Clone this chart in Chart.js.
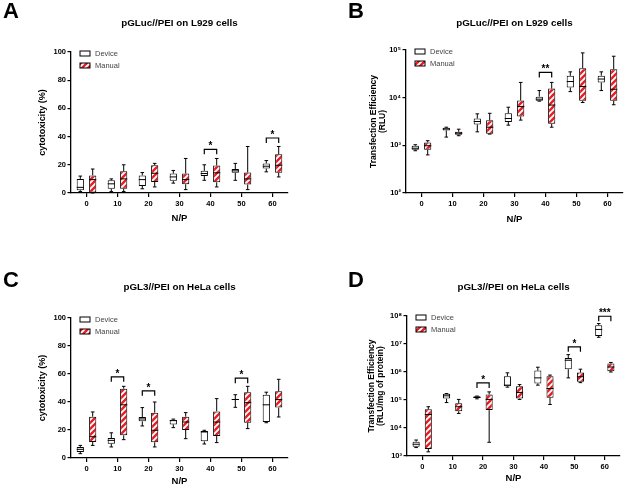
<!DOCTYPE html>
<html lang="en">
<head>
<meta charset="UTF-8">
<title>Device vs Manual transfection</title>
<script src="https://cdn.jsdelivr.net/npm/chart.js"></script>
<style>
  body { margin: 0; background: #fff; }
  #wrap { position: relative; width: 624px; height: 487px; overflow: hidden; }
  canvas { position: absolute; }
  .letter { position: absolute; font: bold 22px "Liberation Sans", Arial, sans-serif; line-height: 1; color: #000; }
</style>
</head>
<body>
<div id="wrap">
  <canvas id="chartA" width="312" height="243" style="left:0;top:0"></canvas>
  <canvas id="chartB" width="312" height="243" style="left:312px;top:0"></canvas>
  <canvas id="chartC" width="312" height="244" style="left:0;top:243px"></canvas>
  <canvas id="chartD" width="312" height="244" style="left:312px;top:243px"></canvas>
  <div class="letter" style="left:3px;top:0">A</div>
  <div class="letter" style="left:348px;top:0">B</div>
  <div class="letter" style="left:3px;top:269px">C</div>
  <div class="letter" style="left:348px;top:269px">D</div>
</div>
<script>
const categories = ['0', '10', '20', '30', '40', '50', '60'];
const seriesNames = ['Device', 'Manual'];

// A: pGLuc//PEI on L929 cells, cytotoxicity (%)
const aDevMin = [1, 1, 3, 7, 9, 9, 15];
const aDevQ1  = [2, 3, 5, 8.6, 12, 14.3, 17.3];
const aDevMed = [4, 6.5, 9.5, 11.4, 13.8, 15.7, 19];
const aDevQ3  = [10, 9, 12.5, 13.8, 15.7, 17, 21];
const aDevMax = [12, 10, 14.5, 16, 20, 21, 23];
const aManMin = [0, 1, 4.3, 2.4, 4.3, 2.4, 11.4];
const aManQ1  = [0.3, 3, 7.8, 6.2, 7.6, 6, 14.3];
const aManMed = [9.5, 10, 14, 9.5, 14.3, 10, 19.7];
const aManQ3  = [12.5, 15.5, 19.7, 13.8, 19.5, 14.5, 27.5];
const aManMax = [17, 20, 21, 24.5, 24.5, 33, 33];
const aSigCats = ['40', '60'];
const aSigTops = [31, 39];
const aSigMarks = ['*', '*'];

// B: pGLuc//PEI on L929 cells, RLU
const bDevMin = [770, 1490, 1920, 2650, 8450, 13400, 14100];
const bDevQ1  = [810, 2050, 2740, 3100, 8600, 16300, 20800];
const bDevMed = [870, 2200, 3160, 3650, 9300, 21800, 24600];
const bDevQ3  = [980, 2330, 3660, 4700, 10500, 28700, 28900];
const bDevMax = [1030, 2400, 4580, 6300, 14100, 34800, 34800];
const bManMin = [630, 1590, 1720, 3380, 2400, 7900, 7100];
const bManQ1  = [810, 1660, 1740, 4040, 2820, 8600, 8600];
const bManMed = [980, 1800, 2400, 6500, 7000, 17100, 15000];
const bManQ3  = [1150, 1920, 3370, 8700, 15500, 41400, 39600];
const bManMax = [1250, 2180, 4700, 20900, 20900, 87000, 74000];
const bSigCats = ['40'];
const bSigTops = [33800];
const bSigMarks = ['**'];
const bTicks = [100, 1000, 10000, 100000];
const bTickLabels = ['10²', '10³', '10⁴', '10⁵'];

// C: pGL3//PEI on HeLa cells, cytotoxicity (%)
const cDevMin = [3.1, 7.9, 22.9, 21.7, 10, 36.2, 25.2];
const cDevQ1  = [4.3, 10.2, 26.2, 24, 11.9, 41.5, 25.7];
const cDevMed = [6.2, 12.6, 27.9, 26.7, 18.6, 41.8, 38];
const cDevQ3  = [7.9, 14.3, 29.3, 27.4, 19.3, 42.1, 45.2];
const cDevMax = [9, 18, 36, 27.8, 19.8, 45.2, 47];
const cManMin = [9, 13.1, 7.9, 13.8, 11, 21, 29.3];
const cManQ1  = [11.4, 16.2, 11.2, 20, 15.7, 25.2, 36];
const cManMed = [15.2, 38, 19.8, 25.7, 25.7, 39.5, 41.7];
const cManQ3  = [29.5, 49.5, 32.4, 29.5, 33.3, 46.9, 47.6];
const cManMax = [32.9, 51.2, 40, 32.4, 42.4, 51.2, 56.2];
const cSigCats = ['10', '20', '50'];
const cSigTops = [58, 48, 57];
const cSigMarks = ['*', '*', '*'];

// D: pGL3//PEI on HeLa cells, RLU/mg of protein
const dDevMin = [2000, 81000, 110000, 288000, 339000, 617000, 17400000];
const dDevQ1  = [2140, 112000, 117000, 309000, 389000, 1260000, 19500000];
const dDevMed = [2630, 141000, 123000, 339000, 617000, 2630000, 33100000];
const dDevQ3  = [3240, 166000, 135000, 708000, 1120000, 3160000, 46800000];
const dDevMax = [3720, 170000, 138000, 933000, 1480000, 4170000, 53700000];
const dManMin = [1410, 33100, 3090, 105000, 69200, 417000, 1000000];
const dManQ1  = [1780, 39800, 43600, 112000, 120000, 447000, 1070000];
const dManMed = [30200, 57500, 105000, 186000, 257000, 676000, 1510000];
const dManQ3  = [46800, 75900, 158000, 309000, 708000, 955000, 2000000];
const dManMax = [57500, 105000, 195000, 355000, 776000, 1260000, 2190000];
const dSigCats = ['20', '50', '60'];
const dSigTops = [407000, 7900000, 98000000];
const dSigMarks = ['*', '*', '***'];
const dTicks = [1000, 10000, 100000, 1000000, 10000000, 100000000];
const dTickLabels = ['10³', '10⁴', '10⁵', '10⁶', '10⁷', '10⁸'];

const FONT = '"Liberation Sans", Arial, sans-serif';

function hatch(ctx) {
  const c = document.createElement('canvas');
  c.width = 6; c.height = 6;
  const g = c.getContext('2d');
  g.fillStyle = '#fff';
  g.fillRect(0, 0, 6, 6);
  g.strokeStyle = '#ec1c24';
  g.lineWidth = 2.4;
  g.beginPath();
  g.moveTo(-1, 7); g.lineTo(7, -1);
  g.moveTo(-1, 1); g.lineTo(1, -1);
  g.moveTo(5, 7); g.lineTo(7, 5);
  g.stroke();
  return ctx.createPattern(c, 'repeat');
}

function boxSeries(label, min, q1, med, q3, max, fill) {
  return {
    label: label,
    data: q1.map((v, i) => [v, q3[i]]),
    stats: { min: min, med: med, max: max },
    backgroundColor: fill,
    borderColor: '#000',
    borderWidth: 1,
    borderSkipped: false,
    barPercentage: 0.58,
    categoryPercentage: 0.8
  };
}

// whiskers, caps and medians on top of the floating bars
const boxWhiskers = {
  id: 'boxWhiskers',
  afterDatasetsDraw(chart) {
    const ctx = chart.ctx, y = chart.scales.y;
    chart.data.datasets.forEach((ds, di) => {
      chart.getDatasetMeta(di).data.forEach((bar, i) => {
        const x = bar.x, half = bar.width / 2, cap = 1.8;
        const pMin = y.getPixelForValue(ds.stats.min[i]);
        const pMax = y.getPixelForValue(ds.stats.max[i]);
        const pLo = y.getPixelForValue(ds.data[i][0]);
        const pHi = y.getPixelForValue(ds.data[i][1]);
        const pMed = y.getPixelForValue(ds.stats.med[i]);
        ctx.save();
        ctx.strokeStyle = '#000';
        ctx.lineWidth = 1;
        ctx.beginPath();
        ctx.moveTo(x, pLo); ctx.lineTo(x, pMin);
        ctx.moveTo(x - cap, pMin); ctx.lineTo(x + cap, pMin);
        ctx.moveTo(x, pHi); ctx.lineTo(x, pMax);
        ctx.moveTo(x - cap, pMax); ctx.lineTo(x + cap, pMax);
        ctx.moveTo(x - half, pMed); ctx.lineTo(x + half, pMed);
        ctx.stroke();
        ctx.restore();
      });
    });
  }
};

const sigBrackets = {
  id: 'sigBrackets',
  afterDraw(chart, args, opts) {
    const ctx = chart.ctx, y = chart.scales.y;
    const dev = chart.getDatasetMeta(0).data, man = chart.getDatasetMeta(1).data;
    opts.cats.forEach((cat, k) => {
      const i = chart.data.labels.indexOf(cat);
      const x1 = dev[i].x, x2 = man[i].x;
      const top = y.getPixelForValue(opts.tops[k]);
      ctx.save();
      ctx.strokeStyle = '#000';
      ctx.lineWidth = 1.2;
      ctx.beginPath();
      ctx.moveTo(x1, top + 5); ctx.lineTo(x1, top); ctx.lineTo(x2, top); ctx.lineTo(x2, top + 5);
      ctx.stroke();
      ctx.fillStyle = '#000';
      ctx.font = 'bold 10px ' + FONT;
      ctx.textAlign = 'center';
      ctx.textBaseline = 'middle';
      ctx.fillText(opts.marks[k], (x1 + x2) / 2, top - 3);
      ctx.restore();
    });
  }
};

const boxLegend = {
  id: 'boxLegend',
  afterDraw(chart) {
    const ctx = chart.ctx, area = chart.chartArea;
    chart.data.datasets.forEach((ds, di) => {
      const cy = area.top + 1.5 + di * 12;
      const lx = area.left + 9;
      ctx.save();
      ctx.fillStyle = ds.backgroundColor;
      ctx.fillRect(lx, cy - 2.5, 10, 5);
      ctx.strokeStyle = '#000';
      ctx.lineWidth = 1;
      ctx.strokeRect(lx, cy - 2.5, 10, 5);
      ctx.fillStyle = '#444';
      ctx.font = '7.5px ' + FONT;
      ctx.textAlign = 'left';
      ctx.textBaseline = 'middle';
      ctx.fillText(ds.label, lx + 15, cy);
      ctx.restore();
    });
  }
};

function makePanel(id, p) {
  const canvas = document.getElementById(id);
  const ctx = canvas.getContext('2d');
  const W = canvas.width, H = canvas.height;
  const titleLh = 9.8 * 1.2, xTitleLh = 9.5 * 1.2;
  const yTitleLh = p.yTitleSize * p.yTitleLine;

  const yScale = {
    type: p.log ? 'logarithmic' : 'linear',
    min: p.yMin,
    max: p.yMax,
    border: { display: true, color: '#000', width: 1.3 },
    grid: { display: true, drawOnChartArea: false, drawTicks: true, tickLength: 3.5, color: '#000', lineWidth: 1.2 },
    ticks: {
      color: '#000',
      padding: 1.5,
      font: { family: FONT, size: 7.5, weight: 'bold' }
    },
    title: {
      display: true,
      text: p.yTitle,
      color: '#000',
      font: { family: FONT, size: p.yTitleSize, weight: 'bold', lineHeight: p.yTitleLine },
      padding: { top: p.yTitleX - yTitleLh / 2, bottom: 0 }
    },
    afterFit(s) { s.width = p.left; }
  };
  if (p.log) {
    yScale.afterBuildTicks = (s) => { s.ticks = p.ticks.map(v => ({ value: v })); };
    yScale.ticks.callback = (v) => p.tickLabels[p.ticks.indexOf(v)];
  } else {
    yScale.ticks.stepSize = 20;
  }

  return new Chart(ctx, {
    type: 'bar',
    data: {
      labels: categories,
      datasets: [
        boxSeries(seriesNames[0], p.dev[0], p.dev[1], p.dev[2], p.dev[3], p.dev[4], '#fff'),
        boxSeries(seriesNames[1], p.man[0], p.man[1], p.man[2], p.man[3], p.man[4], hatch(ctx))
      ]
    },
    options: {
      responsive: false,
      animation: false,
      events: [],
      layout: { padding: { left: 0, right: W - p.right, top: 0, bottom: 0 } },
      plugins: {
        legend: { display: false },
        tooltip: { enabled: false },
        title: {
          display: true,
          fullSize: false,
          text: p.title,
          color: '#000',
          font: { family: FONT, size: 9.8, weight: 'bold', lineHeight: 1.2 },
          padding: { top: p.titleY - titleLh / 2, bottom: p.top - p.titleY - titleLh / 2 }
        },
        sigBrackets: { cats: p.sigCats, tops: p.sigTops, marks: p.sigMarks }
      },
      scales: {
        x: {
          type: 'category',
          offset: true,
          border: { display: true, color: '#000', width: 1.3 },
          grid: { display: true, offset: false, drawOnChartArea: false, drawTicks: true, tickLength: 4, color: '#000', lineWidth: 1.2 },
          ticks: { color: '#000', padding: 2, maxRotation: 0, font: { family: FONT, size: 7.5, weight: 'bold' } },
          title: {
            display: true,
            text: 'N/P',
            color: '#000',
            font: { family: FONT, size: 9.5, weight: 'bold', lineHeight: 1.2 },
            padding: { top: 0, bottom: H - p.xTitleY - xTitleLh / 2 }
          },
          afterFit(s) { s.height = H - p.bottom; }
        },
        y: yScale
      }
    },
    plugins: [boxWhiskers, sigBrackets, boxLegend]
  });
}

makePanel('chartA', {
  title: 'pGLuc//PEI on L929 cells', yTitle: 'cytotoxicity (%)', yTitleSize: 9, yTitleLine: 1.2,
  left: 71, right: 288, top: 52, bottom: 193, titleY: 23.5, yTitleX: 43, xTitleY: 218,
  yMin: 0, yMax: 100, log: false,
  dev: [aDevMin, aDevQ1, aDevMed, aDevQ3, aDevMax],
  man: [aManMin, aManQ1, aManMed, aManQ3, aManMax],
  sigCats: aSigCats, sigTops: aSigTops, sigMarks: aSigMarks
});

makePanel('chartB', {
  title: 'pGLuc//PEI on L929 cells', yTitle: ['Transfection Efficiency', '(RLU)'], yTitleSize: 8.5, yTitleLine: 1.05,
  left: 94, right: 311, top: 50, bottom: 193, titleY: 23.5, yTitleX: 62, xTitleY: 219,
  yMin: 100, yMax: 100000, log: true, ticks: bTicks, tickLabels: bTickLabels,
  dev: [bDevMin, bDevQ1, bDevMed, bDevQ3, bDevMax],
  man: [bManMin, bManQ1, bManMed, bManQ3, bManMax],
  sigCats: bSigCats, sigTops: bSigTops, sigMarks: bSigMarks
});

makePanel('chartC', {
  title: 'pGL3//PEI on HeLa cells', yTitle: 'cytotoxicity (%)', yTitleSize: 9, yTitleLine: 1.2,
  left: 71, right: 288, top: 75, bottom: 215, titleY: 44, yTitleX: 43, xTitleY: 238,
  yMin: 0, yMax: 100, log: false,
  dev: [cDevMin, cDevQ1, cDevMed, cDevQ3, cDevMax],
  man: [cManMin, cManQ1, cManMed, cManQ3, cManMax],
  sigCats: cSigCats, sigTops: cSigTops, sigMarks: cSigMarks
});

makePanel('chartD', {
  title: 'pGL3//PEI on HeLa cells', yTitle: ['Transfection Efficiency', '(RLU/mg of protein)'], yTitleSize: 8.5, yTitleLine: 1.05,
  left: 95, right: 308, top: 73, bottom: 213, titleY: 44, yTitleX: 60, xTitleY: 235,
  yMin: 1000, yMax: 100000000, log: true, ticks: dTicks, tickLabels: dTickLabels,
  dev: [dDevMin, dDevQ1, dDevMed, dDevQ3, dDevMax],
  man: [dManMin, dManQ1, dManMed, dManQ3, dManMax],
  sigCats: dSigCats, sigTops: dSigTops, sigMarks: dSigMarks
});
</script>
</body>
</html>
